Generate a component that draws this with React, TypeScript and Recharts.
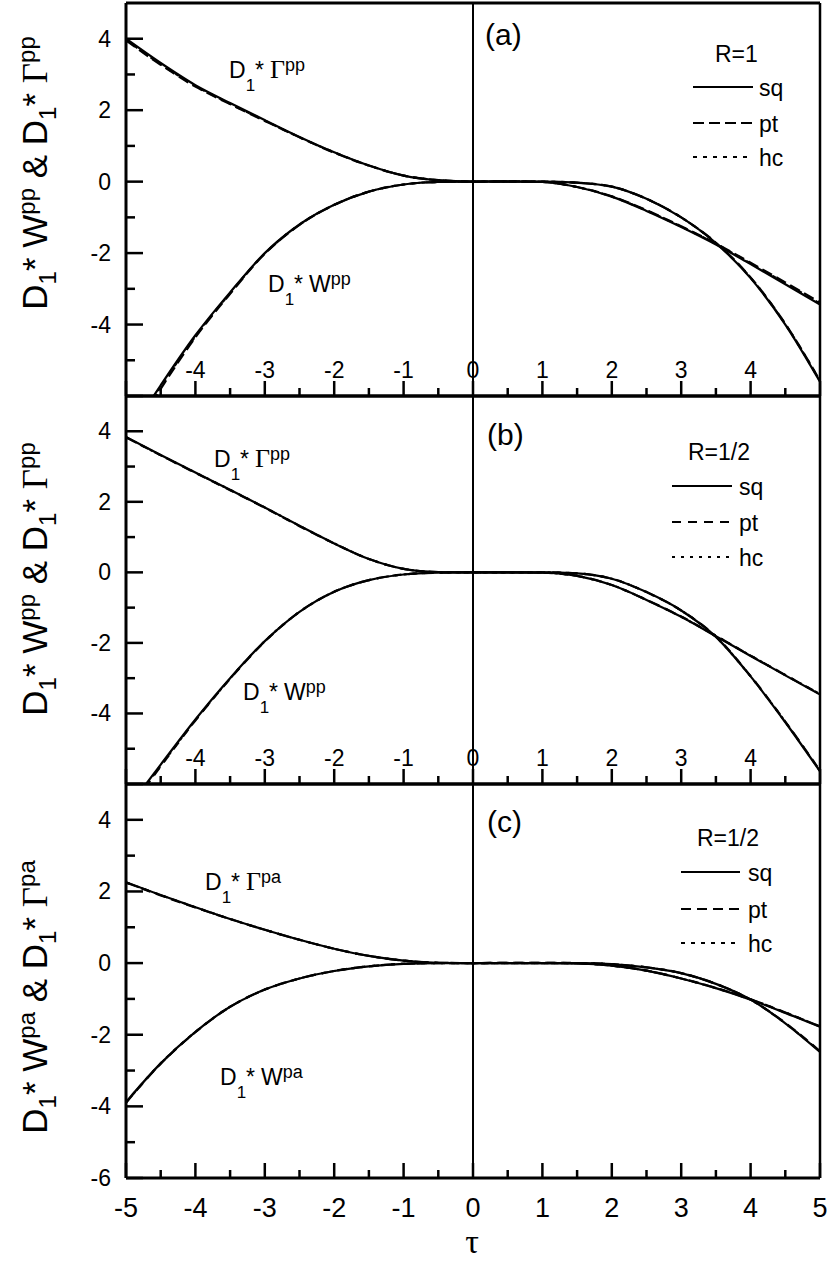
import React from 'react';
import { LineChart, Line, XAxis, YAxis, ReferenceLine } from 'recharts';

// ---------- data ----------
const TAU = [-5, -4.5, -4, -3.5, -3, -2.5, -2, -1.5, -1, -0.5, 0, 0.5, 1, 1.5, 2, 2.5, 3, 3.5, 4, 4.5, 5];
const X_TICKS = [-5, -4.5, -4, -3.5, -3, -2.5, -2, -1.5, -1, -0.5, 0, 0.5, 1, 1.5, 2, 2.5, 3, 3.5, 4, 4.5, 5];
const Y_TICKS = [-6, -5, -4, -3, -2, -1, 0, 1, 2, 3, 4];

// panel (a) R=1, pp
const A_G_SQ = [4.0, 3.32, 2.7, 2.2, 1.72, 1.25, 0.82, 0.45, 0.17, 0.04, 0, 0.01, -0.01, -0.15, -0.42, -0.82, -1.27, -1.76, -2.31, -2.87, -3.44];
const A_G_PT = [3.95, 3.27, 2.66, 2.17, 1.7, 1.24, 0.81, 0.45, 0.17, 0.04, 0, 0.01, -0.01, -0.15, -0.41, -0.8, -1.25, -1.73, -2.27, -2.82, -3.38];
const A_G_HC = [3.97, 3.29, 2.68, 2.18, 1.71, 1.24, 0.82, 0.45, 0.17, 0.04, 0, 0.01, -0.01, -0.15, -0.42, -0.81, -1.26, -1.74, -2.29, -2.84, -3.41];
const A_W_SQ = [-7.2, -5.7, -4.3, -3.1, -2.0, -1.2, -0.65, -0.28, -0.08, -0.01, 0, 0, 0, -0.03, -0.14, -0.48, -1.0, -1.72, -2.7, -4.0, -5.6];
const A_W_PT = [-7.35, -5.8, -4.36, -3.14, -2.02, -1.21, -0.65, -0.28, -0.08, -0.01, 0, 0, 0, -0.03, -0.14, -0.48, -1.0, -1.71, -2.68, -3.98, -5.57];
const A_W_HC = [-7.28, -5.75, -4.33, -3.12, -2.01, -1.2, -0.65, -0.28, -0.08, -0.01, 0, 0, 0, -0.03, -0.14, -0.48, -1.0, -1.72, -2.69, -3.99, -5.58];

// panel (b) R=1/2, pp
const B_G_SQ = [3.84, 3.33, 2.83, 2.34, 1.84, 1.32, 0.82, 0.38, 0.1, 0.01, 0, 0, -0.01, -0.1, -0.36, -0.78, -1.26, -1.81, -2.37, -2.92, -3.46];
const B_G_PT = [3.83, 3.32, 2.82, 2.33, 1.83, 1.31, 0.82, 0.38, 0.1, 0.01, 0, 0, -0.01, -0.1, -0.36, -0.78, -1.25, -1.8, -2.36, -2.91, -3.45];
const B_G_HC = [3.83, 3.32, 2.83, 2.34, 1.84, 1.32, 0.82, 0.38, 0.1, 0.01, 0, 0, -0.01, -0.1, -0.36, -0.78, -1.26, -1.8, -2.36, -2.91, -3.45];
const B_W_SQ = [-6.75, -5.45, -4.17, -3.0, -1.95, -1.12, -0.55, -0.22, -0.06, -0.01, 0, 0, 0, -0.03, -0.18, -0.56, -1.08, -1.83, -2.95, -4.25, -5.64];
const B_W_PT = [-6.85, -5.5, -4.2, -3.02, -1.96, -1.12, -0.55, -0.22, -0.06, -0.01, 0, 0, 0, -0.03, -0.18, -0.56, -1.08, -1.82, -2.94, -4.23, -5.62];
const B_W_HC = [-6.8, -5.48, -4.19, -3.01, -1.95, -1.12, -0.55, -0.22, -0.06, -0.01, 0, 0, 0, -0.03, -0.18, -0.56, -1.08, -1.83, -2.95, -4.24, -5.63];

// panel (c) R=1/2, pa
const C_G_SQ = [2.26, 1.9, 1.56, 1.23, 0.93, 0.65, 0.4, 0.2, 0.07, 0.01, 0, 0, 0, -0.01, -0.07, -0.21, -0.43, -0.7, -1.02, -1.39, -1.78];
const C_G_PT = [2.25, 1.89, 1.55, 1.23, 0.93, 0.65, 0.4, 0.2, 0.07, 0.01, 0, 0.01, 0.01, -0.01, -0.07, -0.21, -0.43, -0.69, -1.01, -1.38, -1.77];
const C_G_HC = [2.25, 1.9, 1.56, 1.23, 0.93, 0.65, 0.4, 0.2, 0.07, 0.01, 0, 0, 0, -0.01, -0.07, -0.21, -0.43, -0.7, -1.01, -1.38, -1.77];
const C_W_SQ = [-3.88, -2.8, -1.92, -1.22, -0.74, -0.43, -0.22, -0.09, -0.02, 0, 0, 0, 0, 0, -0.03, -0.12, -0.28, -0.58, -1.02, -1.68, -2.48];
const C_W_PT = [-3.9, -2.81, -1.93, -1.22, -0.74, -0.43, -0.22, -0.09, -0.02, 0, 0, 0.01, 0.01, 0, -0.03, -0.12, -0.28, -0.58, -1.02, -1.67, -2.46];
const C_W_HC = [-3.89, -2.8, -1.92, -1.22, -0.74, -0.43, -0.22, -0.09, -0.02, 0, 0, 0, 0, 0, -0.03, -0.12, -0.28, -0.58, -1.02, -1.68, -2.47];

const SANS = "'Liberation Sans', Arial, Helvetica, sans-serif";
const SERIF = "'Liberation Serif', 'Times New Roman', serif";

type PanelCfg = {
  id: string;
  top: number;
  height: number;
  margin: { top: number; right: number; bottom: number; left: number };
  labels: 'inside' | 'below';
  showMinus6: boolean;
  ptDash: string;
  hcDash: string;
  series: number[][];
};

// plot areas: (a) y 3..396, (b) y 396..784, (c) y 784..1178 ; x 126..819
const PANELS: PanelCfg[] = [
  { id: 'a', top: 0, height: 400, margin: { top: 2, right: 10, bottom: 3, left: 125 }, labels: 'inside', showMinus6: false, ptDash: '11 5', hcDash: '4 6', series: [A_G_SQ, A_G_PT, A_G_HC, A_W_SQ, A_W_PT, A_W_HC] },
  { id: 'b', top: 390, height: 400, margin: { top: 5, right: 10, bottom: 5, left: 125 }, labels: 'inside', showMinus6: false, ptDash: '9 7', hcDash: '3 6', series: [B_G_SQ, B_G_PT, B_G_HC, B_W_SQ, B_W_PT, B_W_HC] },
  { id: 'c', top: 780, height: 484, margin: { top: 3, right: 10, bottom: 85, left: 125 }, labels: 'below', showMinus6: true, ptDash: '10 6', hcDash: '4 6', series: [C_G_SQ, C_G_PT, C_G_HC, C_W_SQ, C_W_PT, C_W_HC] },
];

const KEYS = ['gSq', 'gPt', 'gHc', 'wSq', 'wPt', 'wHc'];

function rowsOf(series: number[][]) {
  return TAU.map((t, i) => {
    const r: any = { t };
    KEYS.forEach((k, j) => (r[k] = series[j][i]));
    return r;
  });
}

const XTick = (props: any) => {
  const { x, y, payload, mode } = props;
  const v = payload.value;
  const major = Number.isInteger(v);
  const len = major ? 15 : 8;
  return (
    <g>
      <line x1={x} y1={y} x2={x} y2={y - len} stroke="#000" strokeWidth={2.5} />
      {major && mode === 'inside' && Math.abs(v) < 5 && (
        <text x={x} y={y - 18} textAnchor="middle" fontFamily={SANS} fontSize={23} fill="#000">{String(v)}</text>
      )}
      {major && mode === 'below' && (
        <text x={x} y={y + 39} textAnchor="middle" fontFamily={SANS} fontSize={27} fill="#000">{String(v)}</text>
      )}
    </g>
  );
};

const YTick = (props: any) => {
  const { x, y, payload, showMinus6 } = props;
  const v = payload.value;
  const major = v % 2 === 0;
  const len = major ? 17 : 9;
  const showLabel = major && (v !== -6 || showMinus6);
  return (
    <g>
      <line x1={x} y1={y} x2={x + len} y2={y} stroke="#000" strokeWidth={2.5} />
      {showLabel && (
        <text x={x - 15} y={y + 8} textAnchor="end" fontFamily={SANS} fontSize={23} fill="#000">{String(v)}</text>
      )}
    </g>
  );
};

function Panel({ cfg }: { cfg: PanelCfg }) {
  const data = rowsOf(cfg.series);
  const dashes = ['', cfg.ptDash, cfg.hcDash, '', cfg.ptDash, cfg.hcDash];
  const order = [1, 2, 4, 5, 0, 3];
  return (
    <div style={{ position: 'absolute', left: 0, top: cfg.top }}>
      <LineChart width={830} height={cfg.height} data={data} margin={cfg.margin}>
        <XAxis
          dataKey="t"
          type="number"
          domain={[-5, 5]}
          ticks={X_TICKS}
          interval={0}
          height={1}
          tickSize={0}
          tickMargin={0}
          tickLine={false}
          allowDataOverflow
          axisLine={{ stroke: '#000', strokeWidth: 3 }}
          tick={(tp: any) => <XTick {...tp} mode={cfg.labels} />}
        />
        <XAxis xAxisId="top" orientation="top" dataKey="t" type="number" domain={[-5, 5]} height={1} tick={false} tickLine={false} axisLine={{ stroke: '#000', strokeWidth: 3 }} />
        <YAxis
          type="number"
          domain={[-6, 5]}
          ticks={Y_TICKS}
          interval={0}
          width={1}
          tickSize={0}
          tickMargin={0}
          tickLine={false}
          allowDataOverflow
          axisLine={{ stroke: '#000', strokeWidth: 3 }}
          tick={(tp: any) => <YTick {...tp} showMinus6={cfg.showMinus6} />}
        />
        <ReferenceLine x={0} stroke="#000" strokeWidth={2} />
        <ReferenceLine x={5} stroke="#000" strokeWidth={2.5} />
        {order.map((j) => (
          <Line
            key={KEYS[j]}
            dataKey={KEYS[j]}
            type="monotone"
            stroke="#000"
            strokeWidth={2.2}
            strokeDasharray={dashes[j] || undefined}
            dot={false}
            activeDot={false}
            isAnimationActive={false}
          />
        ))}
      </LineChart>
    </div>
  );
}

function CurveLabel({ x, y, sym, sup, serif }: { x: number; y: number; sym: string; sup: string; serif: boolean }) {
  return (
    <text x={x} y={y} fontFamily={SANS} fontSize={23} fill="#000">
      D<tspan dy={13} fontSize={17}>1</tspan>
      <tspan dy={-13}>*</tspan>
      <tspan dx={6} fontFamily={serif ? SERIF : SANS} fontSize={serif ? 26 : 23}>{sym}</tspan>
      <tspan dy={-7} fontSize={18}>{sup}</tspan>
    </text>
  );
}

function YTitle({ cx, cy, sup }: { cx: number; cy: number; sup: string }) {
  return (
    <text transform={`translate(${cx},${cy}) rotate(-90)`} textAnchor="middle" fontFamily={SANS} fontSize={35} fill="#000">
      D<tspan dy={9} fontSize={24}>1</tspan>
      <tspan dy={-9}>{'* W'}</tspan>
      <tspan dy={-12} fontSize={24}>{sup}</tspan>
      <tspan dy={12}>{' & D'}</tspan>
      <tspan dy={9} fontSize={24}>1</tspan>
      <tspan dy={-9}>{'* '}</tspan>
      <tspan fontFamily={SERIF}>Γ</tspan>
      <tspan dy={-12} fontSize={24}>{sup}</tspan>
    </text>
  );
}

function LegendBlock({ rx, ry, rText, x1, x2, ys, tx, ptDash, hcDash }: any) {
  const names = ['sq', 'pt', 'hc'];
  const ds = ['', ptDash, hcDash];
  return (
    <g>
      <text x={rx} y={ry} fontFamily={SANS} fontSize={23} fill="#000">{rText}</text>
      {names.map((n, i) => (
        <g key={n}>
          <line x1={x1} x2={x2} y1={ys[i]} y2={ys[i]} stroke="#000" strokeWidth={2} strokeDasharray={ds[i] || undefined} />
          <text x={tx} y={ys[i] + 9} fontFamily={SANS} fontSize={23} fill="#000">{n}</text>
        </g>
      ))}
    </g>
  );
}

export default function App() {
  return (
    <div style={{ position: 'absolute', left: 0, top: 0, width: 830, height: 1264, background: '#fff' }}>
      {PANELS.map((p) => (
        <Panel key={p.id} cfg={p} />
      ))}
      <svg width={830} height={1264} style={{ position: 'absolute', left: 0, top: 0, pointerEvents: 'none' }}>
        <text x={485} y={45} fontFamily={SANS} fontSize={30}>(a)</text>
        <text x={487} y={445} fontFamily={SANS} fontSize={30}>(b)</text>
        <text x={487} y={832} fontFamily={SANS} fontSize={30}>(c)</text>

        <LegendBlock rx={715} ry={62} rText="R=1" x1={693} x2={753} ys={[87, 123, 157]} tx={759} ptDash="11 5" hcDash="4 6" />
        <LegendBlock rx={688} ry={460} rText="R=1/2" x1={672} x2={732} ys={[486, 522, 557]} tx={739} ptDash="9 7" hcDash="3 6" />
        <LegendBlock rx={697} ry={846} rText="R=1/2" x1={681} x2={740} ys={[872, 909, 943]} tx={748} ptDash="10 6" hcDash="4 6" />

        <CurveLabel x={229} y={78} sym="Γ" sup="pp" serif />
        <CurveLabel x={268} y={292} sym="W" sup="pp" serif={false} />
        <CurveLabel x={214} y={467} sym="Γ" sup="pp" serif />
        <CurveLabel x={243} y={700} sym="W" sup="pp" serif={false} />
        <CurveLabel x={205} y={890} sym="Γ" sup="pa" serif />
        <CurveLabel x={220} y={1085} sym="W" sup="pa" serif={false} />

        <YTitle cx={47} cy={173} sup="pp" />
        <YTitle cx={47} cy={579} sup="pp" />
        <YTitle cx={47} cy={997} sup="pa" />

        <text x={472} y={1253} textAnchor="middle" fontFamily={SERIF} fontSize={34}>τ</text>
      </svg>
    </div>
  );
}
